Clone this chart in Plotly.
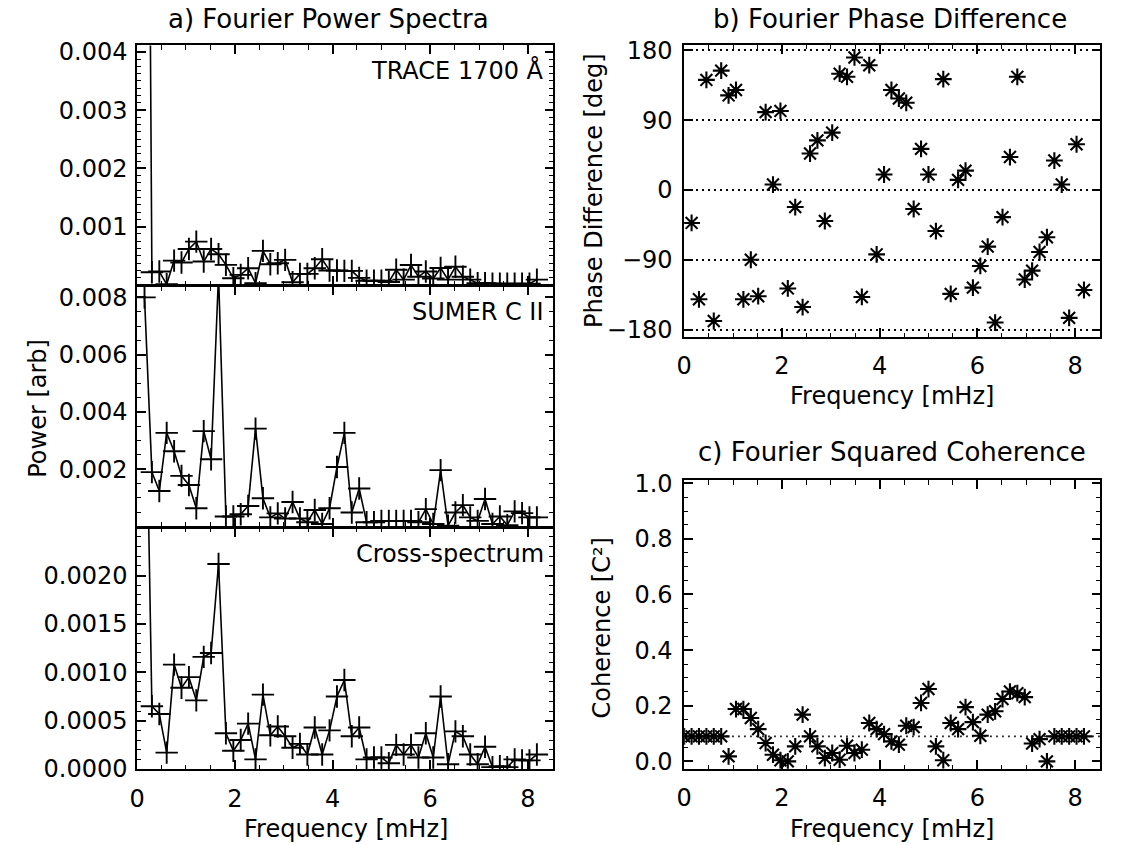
import plotly.graph_objects as go

# ---------------- data ----------------
FREQ = [0.152, 0.303, 0.455, 0.606, 0.758, 0.909, 1.061, 1.212, 1.364, 1.515,
        1.667, 1.818, 1.970, 2.121, 2.273, 2.424, 2.576, 2.727, 2.879, 3.030,
        3.182, 3.333, 3.485, 3.636, 3.788, 3.939, 4.091, 4.242, 4.394, 4.545,
        4.697, 4.848, 5.000, 5.152, 5.303, 5.455, 5.606, 5.758, 5.909, 6.061,
        6.212, 6.364, 6.515, 6.667, 6.818, 6.970, 7.121, 7.273, 7.424, 7.576,
        7.727, 7.879, 8.030, 8.182]
FREQ_COH = [0.0] + FREQ

TRACE_POWER = [0.02, 0.000217, 0.000229, 0.00001, 0.000417, 0.000383, 0.000617, 0.000743, 0.0004, 0.000617,
               0.000526, 0.000343, 0.000114, 0.000171, 0.000286, 0.00003, 0.000583, 0.000354, 0.000371, 0.000429,
               0.000046, 0.000189, 0.000189, 0.000286, 0.00044, 0.000246, 0.000246, 0.00024, 0.00024, 0.00012,
               0.00007, 0.00007, 0.00007, 0.00005, 0.00026, 0.00009, 0.00034, 0.00014, 0.00023, 0.00011,
               0.00029, 0.00009, 0.00031, 0.00014, 0.00009, 0.00003, 0.00003, 0.00002, 0.00002, 0.00002,
               0.00002, 0.00002, 0.00002, 0.00009]

SUMER_POWER = [0.0080, 0.0019, 0.00124, 0.00327, 0.00263, 0.00177, 0.00145, 0.00064, 0.00333, 0.00235,
               0.0088, 0.00035, 0.00035, 0.00043, 0.00072, 0.00342, 0.00099, 0.00032, 0.00046, 0.00028,
               0.00086, 0.00028, 0.00015, 0.00058, 0.00009, 0.00064, 0.00208, 0.00327, 0.00049, 0.00133,
               0.00015, 0.00015, 0.0002, 0.0002, 0.0002, 0.0002, 0.0002, 0.00015, 0.00061, 0.00009,
               0.00197, 0.00003, 0.00049, 0.00075, 0.00032, 0.0002, 0.00096, 0.00009, 0.00035, 0.00005,
               0.00053, 0.00047, 0.00032, 0.00032]

CROSS_POWER = [0.005, 0.00065, 0.00057, 0.00017, 0.00108, 0.00084, 0.00095, 0.00071, 0.00116, 0.0012,
               0.00212, 0.00037, 0.00019, 0.0003, 0.00047, 0.0001, 0.00077, 0.00035, 0.00044, 0.00034,
               0.00022, 0.00026, 0.00015, 0.00043, 0.00015, 0.0004, 0.00075, 0.00092, 0.00034, 0.00043,
               0.0001, 0.00012, 0.00012, 0.00006, 0.00025, 0.00015, 0.00025, 0.00012, 0.00037, 0.00012,
               0.00075, 0.00005, 0.00039, 0.00034, 0.00015, 0.00005, 0.00023, 0.00002, 0.00003, 0.00002,
               0.0001, 0.00009, 0.00009, 0.00015]

PHASE_DEG = [-42.5, -141, 142, -169, 154, 122, 129, -141, -90, -137,
             100.5, 7, 102, -127, -22, -151, 47, 64, -40, 74,
             150, 146, 171, -138, 161, -83, 20, 129, 118, 112.5,
             -24.5, 53, 20, -53, 143, -134, 13, 25, -126, -98,
             -73, -171, -35, 42.5, 146, -115.5, -104, -80, -61, 38,
             7, -165, 59, -129]

COHERENCE = [0.09, 0.09, 0.09, 0.09, 0.09, 0.09, 0.018, 0.188, 0.188, 0.156,
             0.116, 0.066, 0.024, 0.004, 0.0, 0.054, 0.168, 0.09, 0.054, 0.012,
             0.03, 0.006, 0.056, 0.03, 0.042, 0.138, 0.116, 0.098, 0.072, 0.06,
             0.128, 0.123, 0.21, 0.26, 0.054, 0.004, 0.138, 0.116, 0.195, 0.141,
             0.092, 0.168, 0.18, 0.224, 0.251, 0.245, 0.231, 0.064, 0.08, 0.0,
             0.09, 0.09, 0.09, 0.09, 0.09]
SIGNIFICANCE = 0.09

X_TICKS = [0, 2, 4, 6, 8]
TOP_TICKS = [0.001, 0.002, 0.003, 0.004]
MID_TICKS = [0.002, 0.004, 0.006, 0.008]
BOT_TICKS = [0.0, 0.0005, 0.0010, 0.0015, 0.0020, 0.0025]
PHASE_TICKS = [-180, -90, 0, 90, 180]
COH_TICKS = [0.0, 0.2, 0.4, 0.6, 0.8, 1.0]

# ---------------- layout helpers ----------------
W, H = 1126, 845
FONT = "DejaVu Sans"
FS = 24
LW = 1.6

# vertical placement correction measured from an earlier rendering
Y_OFF, Y_SCALE = 10.5, 0.9716


def Y(t):
    return (t - Y_OFF) / Y_SCALE


def xdom(a, b):
    return [a / W, b / W]


def ydom(top, bottom):
    return [1 - Y(bottom) / H, 1 - Y(top) / H]


def px(x):
    return x / W


def py(y):
    return 1 - Y(y) / H


XR = [0, 8.52]

fig = go.Figure()

plus = dict(symbol="cross-thin", size=16, line=dict(color="black", width=1.9), color="black")
star = dict(symbol="asterisk-open", size=14, line=dict(color="black", width=2.1), color="black")
ln = dict(color="black", width=1.6)

fig.add_trace(go.Scatter(x=FREQ, y=TRACE_POWER, mode="lines+markers", line=ln, marker=plus,
                         xaxis="x", yaxis="y", showlegend=False))
fig.add_trace(go.Scatter(x=FREQ, y=SUMER_POWER, mode="lines+markers", line=ln, marker=plus,
                         xaxis="x2", yaxis="y2", showlegend=False))
fig.add_trace(go.Scatter(x=FREQ, y=CROSS_POWER, mode="lines+markers", line=ln, marker=plus,
                         xaxis="x3", yaxis="y3", showlegend=False))
fig.add_trace(go.Scatter(x=FREQ, y=PHASE_DEG, mode="markers", marker=star,
                         xaxis="x4", yaxis="y4", showlegend=False))
fig.add_trace(go.Scatter(x=FREQ_COH, y=COHERENCE, mode="markers", marker=star,
                         xaxis="x5", yaxis="y5", showlegend=False))

tickfont = dict(family=FONT, size=FS, color="black")
base = dict(showline=True, linecolor="black", linewidth=LW, mirror="allticks",
            ticks="inside", ticklen=9, tickwidth=1.5, tickcolor="black",
            showgrid=False, zeroline=False, tickfont=tickfont)
xminor = dict(ticks="inside", tickmode="linear", tick0=0, dtick=0.5, ticklen=4.5,
              tickwidth=1.2, tickcolor="black", showgrid=False)


def xax(dom, anchor, labels):
    d = dict(base)
    d.update(domain=dom, anchor=anchor, range=XR, tickmode="array", tickvals=X_TICKS,
             ticktext=[str(v) for v in X_TICKS], showticklabels=labels, minor=xminor,
             ticklabelstandoff=7)
    return d


def yax(dom, anchor, rng, vals, texts, minor_dtick, standoff, grid=False):
    d = dict(base)
    d.update(domain=dom, anchor=anchor, range=rng, tickmode="array", tickvals=vals,
             ticktext=texts, ticklabelstandoff=standoff)
    if minor_dtick:
        d["minor"] = dict(ticks="inside", tickmode="linear", tick0=0, dtick=minor_dtick,
                          ticklen=4.5, tickwidth=1.2, tickcolor="black", showgrid=False)
    if grid:
        d.update(showgrid=True, gridcolor="black", griddash="1.6px,4.4px", gridwidth=1.6)
    return d


AX_L, AX_R = 130, 549.3
BX_L, BX_R = 681, 1100.3
h = LW / 2

fig.update_layout(
    xaxis=xax(xdom(AX_L, AX_R), "y", False),
    yaxis=yax(ydom(45, 285.5 - h), "x", [0, 0.00411], TOP_TICKS,
              ["%.3f" % v for v in TOP_TICKS], 0.000125, 3),
    xaxis2=xax(xdom(AX_L, AX_R), "y2", False),
    yaxis2=yax(ydom(285.5 + h, 527.5 - h), "x2", [0, 0.00838], MID_TICKS,
               ["%.3f" % v for v in MID_TICKS], 0.0005, 3),
    xaxis3=xax(xdom(AX_L, AX_R), "y3", True),
    yaxis3=yax(ydom(527.5 + h, 769.5), "x3", [0, 0.00249], BOT_TICKS,
               ["%.4f" % v for v in BOT_TICKS], 0.0001, 3),
    xaxis4=xax(xdom(BX_L, BX_R), "y4", True),
    yaxis4=yax(ydom(44.5, 336.7), "x4", [-189.4, 187.1], PHASE_TICKS,
               ["%d" % v if v >= 0 else "\u2212%d" % -v for v in PHASE_TICKS], None, 5, grid=True),
    xaxis5=xax(xdom(BX_L, BX_R), "y5", True),
    yaxis5=yax(ydom(480.5, 769.3), "x5", [-0.027, 1.01], COH_TICKS,
               ["%.1f" % v for v in COH_TICKS], 0.05, 5),
)

fig.add_shape(type="line", xref="x5 domain", x0=0, x1=1, yref="y5", y0=SIGNIFICANCE, y1=SIGNIFICANCE,
              line=dict(color="black", width=1.6, dash="1.6px,4.4px"))

TF = dict(family=FONT, size=26, color="black")
LF = dict(family=FONT, size=FS, color="black")


def ann(text, x, y, font, xanchor="center", yanchor="middle", angle=0):
    fig.add_annotation(text=text, x=px(x), y=py(y), xref="paper", yref="paper",
                       showarrow=False, font=font, xanchor=xanchor, yanchor=yanchor,
                       textangle=angle, borderpad=0)


ann("a) Fourier Power Spectra", 323, 19, TF)
ann("b) Fourier Phase Difference", 888, 19, TF)
ann("c) Fourier Squared Coherence", 890, 452, TF)

ann("TRACE 1700 Å", 541, 70, LF, xanchor="right")
ann("SUMER C II", 541, 312, LF, xanchor="right")
ann("Cross-spectrum", 541, 554, LF, xanchor="right")

ann("Frequency [mHz]", 340, 829, LF)
ann("Frequency [mHz]", 890, 396, LF)
ann("Frequency [mHz]", 890, 829, LF)

ann("Power [arb]", 30, 408, LF, angle=-90)
ann("Phase Difference [deg]", 590, 190, LF, angle=-90)
ann("Coherence [C²]", 598, 628, LF, angle=-90)

fig.update_layout(width=W, height=H, margin=dict(l=0, r=0, t=0, b=0),
                  paper_bgcolor="white", plot_bgcolor="white", showlegend=False)

fig.write_html("out.html")
